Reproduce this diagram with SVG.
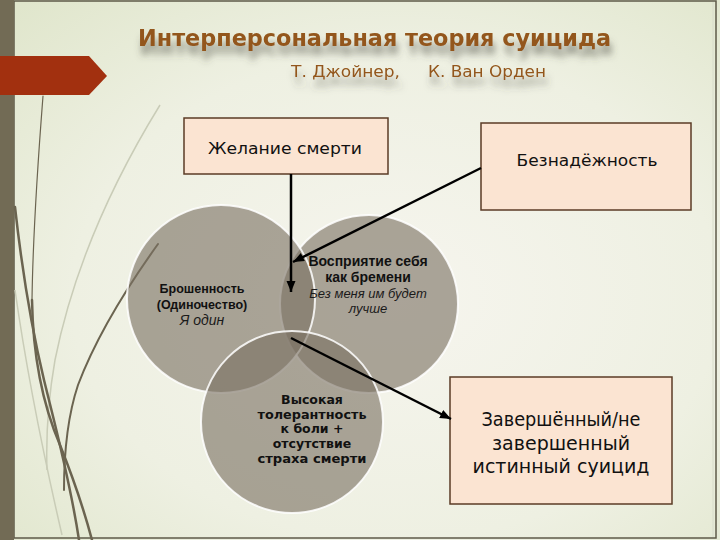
<svg xmlns="http://www.w3.org/2000/svg" width="720" height="540" viewBox="0 0 720 540">
<defs>
<radialGradient id="bg" cx="0.55" cy="0.55" r="0.75">
<stop offset="0" stop-color="#f6f5ee"/>
<stop offset="0.6" stop-color="#eef0e2"/>
<stop offset="1" stop-color="#e0e6cc"/>
</radialGradient>
<filter id="shadow" x="-10%" y="-50%" width="120%" height="250%">
<feGaussianBlur in="SourceAlpha" stdDeviation="3.5"/>
<feOffset dx="2" dy="9" result="b"/>
<feFlood flood-color="#4a4a40" flood-opacity="0.55"/>
<feComposite in2="b" operator="in" result="s"/>
<feMerge><feMergeNode in="s"/><feMergeNode in="SourceGraphic"/></feMerge>
</filter>
<marker id="arr" markerUnits="userSpaceOnUse" markerWidth="12" markerHeight="10" refX="11" refY="4.5" orient="auto">
<path d="M0,0 L11,4.5 L0,9 z" fill="#000"/>
</marker>
<style>
.box{fill:#fbe4d2;stroke:#5b3b26;stroke-width:1.5}
.bt{font-family:"DejaVu Sans","Liberation Sans",sans-serif;fill:#111;text-anchor:middle}
.circ{fill:#7b7162;fill-opacity:0.62;stroke:#ffffff;stroke-opacity:0.85;stroke-width:2}
.cb{font-family:"Liberation Sans","DejaVu Sans",sans-serif;font-weight:bold;fill:#111;text-anchor:middle}
.ci{font-family:"Liberation Sans","DejaVu Sans",sans-serif;font-style:italic;fill:#1a1a1a;text-anchor:middle}
.cc{font-family:"DejaVu Sans","Liberation Sans",sans-serif;font-weight:bold;fill:#111;text-anchor:middle;font-size:12.5px}
.con{stroke:#000;stroke-width:2.5;fill:none;marker-end:url(#arr)}
.wisp{fill:none;stroke:#6b6450;stroke-linecap:round}
.faint{fill:none;stroke:#c9ccb7;stroke-width:1.5}
.ttl{font-family:"DejaVu Sans","Liberation Sans",sans-serif;fill:#93561b}
</style>
</defs>

<!-- background -->
<rect x="0" y="0" width="720" height="540" fill="url(#bg)"/>
<rect x="14" y="1" width="702" height="537" fill="none" stroke="#5e5a48" stroke-width="1.5"/>
<line x1="713" y1="2" x2="713" y2="537" stroke="#d8dccb" stroke-width="1"/>
<rect x="0" y="0" width="14" height="540" fill="#726b55"/>

<!-- decorative wisps -->
<g id="wisps">
<path class="faint" d="M160,105 C120,170 75,260 55,360 C48,400 46,440 47,470"/>
<path class="faint" d="M15,290 C25,360 40,440 62,535"/>
<path class="wisp" stroke-width="1.2" d="M43,96 C38,160 33,230 32,300"/>
<path class="wisp" stroke-width="2.5" d="M32,300 C33,360 45,410 60,445 C72,475 84,510 92,540"/>
<path class="wisp" stroke-width="2.5" d="M15,207 C22,270 32,330 44,380 C55,425 70,480 79,540"/>
<path class="wisp" stroke-width="2" d="M158,244 C125,290 95,340 78,385 C68,415 64,450 64,490"/>
</g>

<!-- red arrow tab -->
<polygon points="0,56 89,56 107,76 89,95 0,95" fill="#a2300f"/>

<!-- title -->
<g id="title" filter="url(#shadow)">
<text class="ttl" x="138" y="46" font-size="23" font-weight="bold" textLength="473" lengthAdjust="spacingAndGlyphs">Интерперсональная теория суицида</text>
<text class="ttl" y="77" font-size="16.5"><tspan x="291" textLength="109" lengthAdjust="spacingAndGlyphs">Т. Джойнер,</tspan><tspan x="428" textLength="118" lengthAdjust="spacingAndGlyphs">К. Ван Орден</tspan></text>
</g>

<!-- circles -->
<g id="circle-burden">
<circle class="circ" cx="369" cy="304" r="89"/>
</g>
<g id="circle-loneliness">
<circle class="circ" cx="221" cy="299" r="94"/>
</g>
<g id="circle-tolerance">
<circle class="circ" cx="292" cy="422" r="91"/>
</g>

<g id="text-loneliness">
<text class="cb" x="202" y="293" font-size="12.5">Брошенность</text>
<text class="cb" x="202" y="309" font-size="12.5">(Одиночество)</text>
<text class="ci" x="202" y="325" font-size="14">Я один</text>
</g>
<g id="text-burden">
<text class="cb" x="368" y="266" font-size="14">Восприятие себя</text>
<text class="cb" x="368" y="282" font-size="14">как бремени</text>
<text class="ci" x="368" y="298" font-size="13">Без меня им будет</text>
<text class="ci" x="368" y="313" font-size="13">лучше</text>
</g>
<g id="text-tolerance">
<text class="cc" x="312" y="404">Высокая</text>
<text class="cc" x="312" y="419" textLength="109" lengthAdjust="spacingAndGlyphs">толерантность</text>
<text class="cc" x="312" y="433">к боли +</text>
<text class="cc" x="312" y="448">отсутствие</text>
<text class="cc" x="312" y="463" textLength="109" lengthAdjust="spacingAndGlyphs">страха смерти</text>
</g>

<!-- boxes -->
<g id="box-desire">
<rect class="box" x="184" y="118" width="204" height="56"/>
<text class="bt" x="285" y="154" font-size="16" textLength="154" lengthAdjust="spacingAndGlyphs">Желание смерти</text>
</g>
<g id="box-hopelessness">
<rect class="box" x="481" y="123" width="210" height="87"/>
<text class="bt" x="587" y="166" font-size="16" textLength="141" lengthAdjust="spacingAndGlyphs">Безнадёжность</text>
</g>
<g id="box-suicide">
<rect class="box" x="450" y="377" width="222" height="127"/>
<text class="bt" x="561" y="426" font-size="19" textLength="159" lengthAdjust="spacingAndGlyphs">Завершённый/не</text>
<text class="bt" x="561" y="450" font-size="19">завершенный</text>
<text class="bt" x="561" y="473" font-size="19">истинный суицид</text>
</g>

<!-- connectors -->
<g id="connectors">
<line class="con" x1="291" y1="174" x2="291" y2="292"/>
<line class="con" x1="481" y1="168" x2="293" y2="262"/>
<line class="con" x1="291" y1="338" x2="451" y2="419"/>
</g>
</svg>
